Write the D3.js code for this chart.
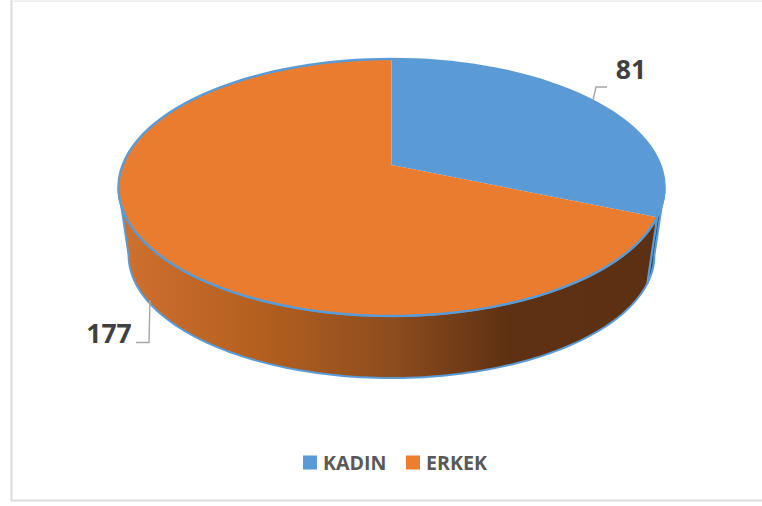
<!DOCTYPE html>
<html><head><meta charset="utf-8">
<script src="https://cdn.jsdelivr.net/npm/d3@7/dist/d3.min.js"></script>
<style>html,body{margin:0;padding:0;background:#fff}svg{display:block}text{font-family:"Open Sans",sans-serif;font-weight:700}</style>
</head><body><div id="c"></div>
<script>
const categories = ["KADIN", "ERKEK"];
const values = [81, 177];
const colors = ["#5b9bd5", "#ea7c30"];
const legendColors = ["#5b9bd5", "#ed7d31"];

const W = 762, H = 506;
const svg = d3.select("#c").append("svg").attr("width", W).attr("height", H);

// chart frame
svg.append("path").attr("d", `M${W+2} 0.5 H11.5 V500.5 H${W+2}`).attr("fill", "none").attr("stroke", "#dcdcdc").attr("stroke-width", 2);
svg.append("path").attr("d", `M12 0.5 H${W}`).attr("stroke", "#f2f2f2").attr("stroke-width", 1);

const defs = svg.append("defs");
const grad = defs.append("linearGradient").attr("id", "wallO").attr("gradientUnits", "userSpaceOnUse")
  .attr("x1", 120).attr("x2", 660).attr("y1", 0).attr("y2", 0);
[[0, "#cf7030"], [0.25, "#b5601f"], [0.5, "#8e4d1e"], [0.72, "#5e3112"], [1, "#5c3012"]]
  .forEach(s => grad.append("stop").attr("offset", s[0]).attr("stop-color", s[1]));

// perspective projection of the pie disc
const k = 0.175;
const cx = 391.5, apexY = 165;
function projector(A, B, y0) {
  return a => {
    const u = Math.sin(a), v = Math.cos(a), w = 1 + k * v;
    return [cx + A * u / w, y0 - B * v / w];
  };
}
const top3d = projector(268.8, 124.6, apexY);
const bot3d = projector(268.8 * 0.963, 124.6 * 0.957, 233.5);
const line = d3.line();
const arcPts = (proj, a0, a1) => d3.range(0, 121).map(i => proj(a0 + (a1 - a0) * i / 120));

const pie = d3.pie().value(d => d).sort(null);
const arcs = pie(values);
const silR = Math.acos(-k), silL = 2 * Math.PI - silR;

// outer walls
function wall(a0, a1, fill, stroke) {
  const pts = arcPts(top3d, a0, a1).concat(arcPts(bot3d, a1, a0));
  svg.append("path").attr("d", line(pts) + "Z").attr("fill", fill).attr("stroke", stroke).attr("stroke-width", 2).attr("stroke-linejoin", "round");
}
wall(silR, arcs[0].endAngle, "#25527c", "#5b9bd5");
wall(arcs[1].startAngle, silL, "url(#wallO)", "#5b9bd5");

// top slices
arcs.forEach((d, i) => {
  const pts = [[cx, apexY]].concat(arcPts(top3d, d.startAngle, d.endAngle));
  svg.append("path").attr("d", line(pts) + "Z").attr("fill", colors[i]);
});
svg.append("path").attr("d", line(arcPts(top3d, 0, 2 * Math.PI)) + "Z").attr("fill", "none").attr("stroke", "#5b9bd5").attr("stroke-width", 2.4);

// leader lines
const leaders = [
  [[593, 100], [596, 87], [607, 87]],
  [[150, 300], [149, 342.5], [136, 342.5]]
];
leaders.forEach(p => svg.append("path").attr("d", line(p)).attr("fill", "none").attr("stroke", "#a6a6a6").attr("stroke-width", 1.4));

// data labels
const labelPos = [[631, 78.5], [109, 342.5]];
values.forEach((v, i) => svg.append("text").attr("x", labelPos[i][0]).attr("y", labelPos[i][1]).attr("text-anchor", "middle")
  .attr("font-size", 26.5).attr("fill", "#404040").text(v));

// legend
const legendX = [303, 406];
categories.forEach((c, i) => {
  svg.append("rect").attr("x", legendX[i]).attr("y", 455.5).attr("width", 14).attr("height", 14).attr("fill", legendColors[i]);
  svg.append("text").attr("x", legendX[i] + 20).attr("y", 469.5).attr("font-size", 19.6).attr("fill", "#595959").text(c);
});
</script></body></html>
